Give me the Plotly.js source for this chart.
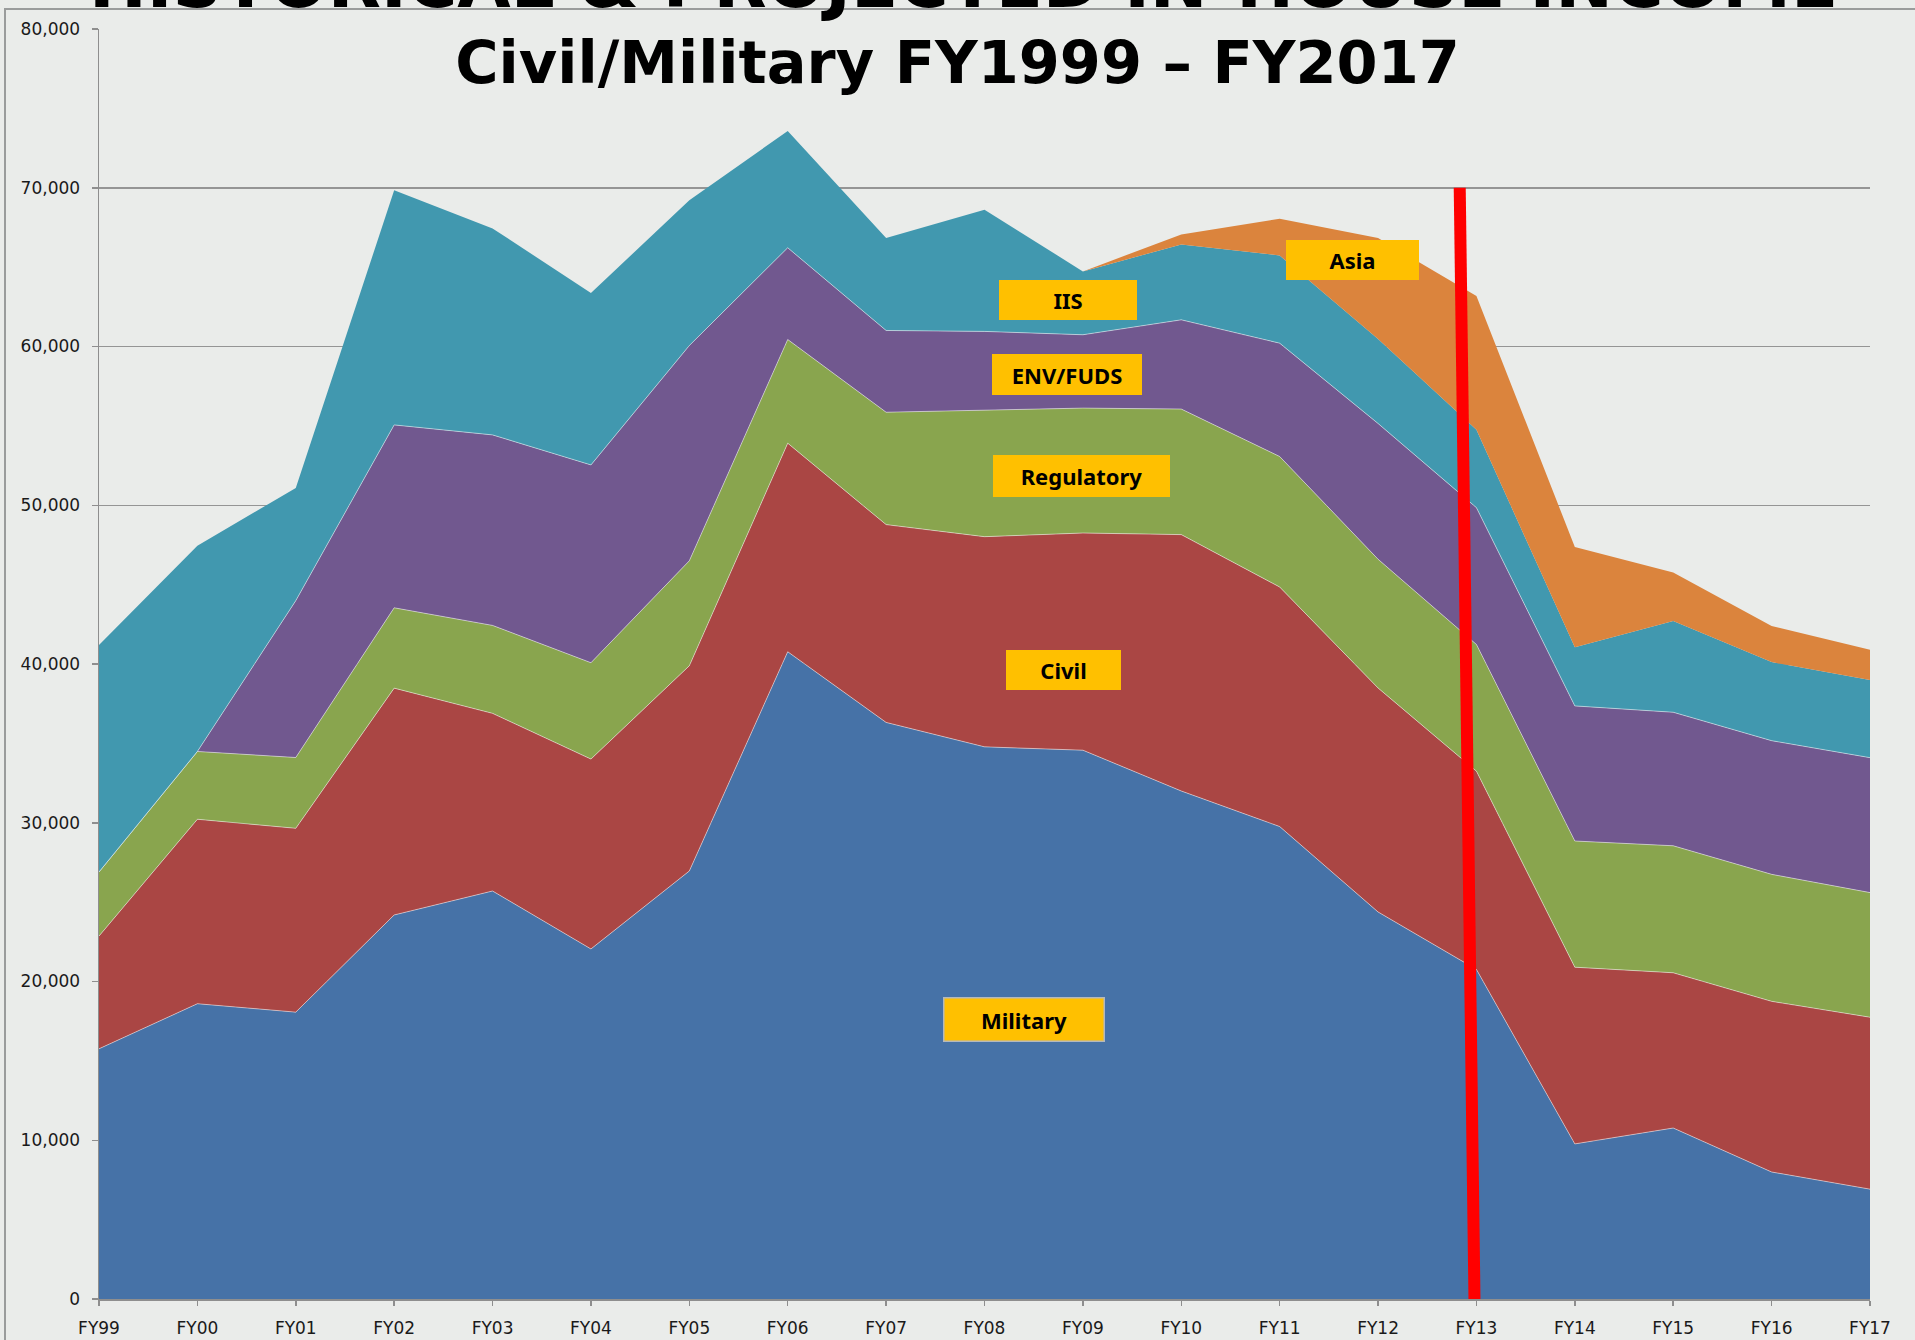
<!DOCTYPE html>
<html>
<head>
<meta charset="utf-8">
<script src="https://cdn.plot.ly/plotly-3.0.1.min.js"></script>
<style>
  html, body { margin: 0; padding: 0; background: #eaecea; }
  #chart { width: 1915px; height: 1340px; }
</style>
</head>
<body>
<div id="chart"></div>
<script>
// ---- Data ----
const categories = ['FY99','FY00','FY01','FY02','FY03','FY04','FY05','FY06','FY07','FY08',
                    'FY09','FY10','FY11','FY12','FY13','FY14','FY15','FY16','FY17'];

const military   = [15760, 18600, 18070, 24190, 25700, 22050, 26960, 40770, 36320, 34780,
                    34570, 32000, 29760, 24380, 20760,  9770, 10770,  8000,  6920];
const civil      = [ 7100, 11620, 11580, 14290, 11190, 11960, 12930, 13140, 12460, 13240,
                    13680, 16150, 15090, 14110, 12490, 11130,  9780, 10750, 10830];
const regulatory = [ 4040,  4270,  4460,  5060,  5540,  6070,  6610,  6530,  7080,  7950,
                     7870,  7910,  8220,  8110,  7980,  7950,  8000,  8000,  7850];
const envFuds    = [    0,     0,  9880, 11520, 12000, 12460, 13560,  5780,  5150,  4980,
                     4620,  5620,  7140,  8550,  8620,  8510,  8410,  8420,  8500];
const iis        = [14290, 12960,  7100, 14780, 13010, 10830,  9150,  7360,  5820,  7670,
                     3990,  4750,  5530,  5330,  4900,  3690,  5750,  4950,  4890];
const asia       = [    0,     0,     0,     0,     0,     0,     0,     0,     0,     0,
                        0,   630,  2310,  6350,  8430,  6320,  3060,  2270,  1910];

const seriesNames  = ['Military', 'Civil', 'Regulatory', 'ENV/FUDS', 'IIS', 'Asia'];
const seriesValues = [military, civil, regulatory, envFuds, iis, asia];
const seriesColors = ['#4672A7', '#AA4644', '#89A54E', '#71588F', '#4198AF', '#DB843D'];
const yTickValues  = [0, 10000, 20000, 30000, 40000, 50000, 60000, 70000, 80000];

const mainTitle = 'Civil/Military FY1999 \u2013 FY2017';
const topTitle  = 'HISTORICAL & PROJECTED IN-HOUSE INCOME';
const splitYear = 'FY13';

// ---- Traces ----
const traces = seriesNames.map((name, i) => ({
  type: 'scatter',
  mode: 'lines',
  name: name,
  x: categories,
  y: seriesValues[i],
  stackgroup: 'one',
  fillcolor: seriesColors[i],
  line: { width: i < 4 ? 0.8 : 0, color: 'rgba(255,255,255,0.6)', shape: 'linear' },
  hoverinfo: 'skip'
}));

// ---- Label boxes ----
const labelFont = { family: 'Noto Sans, Open Sans, sans-serif', size: 22, color: '#000000' };
function box(text, x, y, w, h, border) {
  return {
    text: '<b>' + text + '</b>', xref: 'x', yref: 'y', x: x, y: y,
    xanchor: 'center', yanchor: 'middle', showarrow: false,
    width: w, height: h, bgcolor: '#FFC000', borderpad: 0,
    bordercolor: border ? '#b4b8bc' : 'rgba(0,0,0,0)', borderwidth: border ? 1.5 : 0,
    font: labelFont, align: 'center', valign: 'middle'
  };
}
const iSplit = categories.indexOf(splitYear);

const annotations = [
  box('Asia', 12.74, 65470, 133, 40, false),
  box('IIS', 9.85, 62960, 138, 40, false),
  box('ENV/FUDS', 9.84, 58250, 150, 41, false),
  box('Regulatory', 9.99, 51820, 177, 42, false),
  box('Civil', 9.80, 39620, 115, 40, false),
  box('Military', 9.40, 17610, 159, 42, true),
  {
    // slide heading, cropped by the top edge as in the source picture
    text: '<b>' + topTitle + '</b>', xref: 'paper', yref: 'paper',
    x: 864 / 1771, y: 1.0, xanchor: 'center', yanchor: 'bottom', yshift: 4,
    showarrow: false, font: { family: 'DejaVu Sans', size: 69, color: '#000000' }
  }
];

const shapes = [
  // outer frame of the slide graphic
  { type: 'rect', xref: 'paper', yref: 'paper', layer: 'below',
    x0: -94 / 1771, x1: 1.2, y0: -0.2, y1: 1 + 20 / 1270.3,
    line: { color: '#9a9c9c', width: 2 }, fillcolor: 'rgba(0,0,0,0)' },
  // red divider between historical and projected years
  { type: 'line', xref: 'x', yref: 'y', layer: 'above',
    x0: iSplit - 0.17, y0: 70000, x1: iSplit - 0.02, y1: 0,
    line: { color: '#FF0000', width: 12 } }
];

const tickFont = { family: 'DejaVu Sans, Verdana, sans-serif', size: 17, color: '#1a1a1a' };

const layout = {
  width: 1915, height: 1340,
  paper_bgcolor: '#eaecea', plot_bgcolor: 'rgba(0,0,0,0)',
  margin: { l: 99, r: 45, t: 29, b: 41, pad: 0 },
  showlegend: false,
  hovermode: false,
  title: {
    text: '<b>' + mainTitle + '</b>',
    font: { family: 'DejaVu Sans', size: 59, color: '#000000' },
    x: 0.5, xanchor: 'center', xref: 'container',
    y: 1 - 62 / 1340, yanchor: 'middle', yref: 'container'
  },
  xaxis: {
    type: 'category', range: [0, categories.length - 1],
    showgrid: false, zeroline: false,
    showline: true, linecolor: '#8e8e8e', linewidth: 1.5,
    ticks: 'outside', ticklen: 5, tickcolor: '#8e8e8e', tickwidth: 1.5,
    tickfont: tickFont, ticklabelstandoff: 8
  },
  yaxis: {
    range: [0, 80000], tickvals: yTickValues, tickformat: ',d',
    showgrid: true, gridcolor: '#959595', gridwidth: 1.5,
    zeroline: false,
    showline: true, linecolor: '#8e8e8e', linewidth: 1.5,
    ticks: 'outside', ticklen: 6, tickcolor: '#8e8e8e', tickwidth: 1.5,
    tickfont: tickFont, ticklabelstandoff: 8
  },
  annotations: annotations,
  shapes: shapes
};

Plotly.newPlot('chart', traces, layout, { displayModeBar: false, staticPlot: true });
</script>
</body>
</html>
